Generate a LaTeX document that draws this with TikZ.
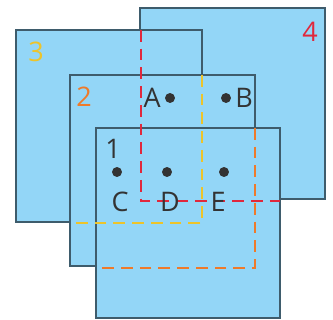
\documentclass[tikz,border=0pt]{standalone}
\usepackage{fontspec}
\setmainfont{Open Sans}
\usetikzlibrary{positioning}
\definecolor{sheet}{HTML}{93D6F7}
\definecolor{rim}{HTML}{3E5C6C}
\definecolor{red4}{HTML}{E0283C}
\definecolor{yel3}{HTML}{EDC42A}
\definecolor{org2}{HTML}{EE7A2A}
\begin{document}
\begin{tikzpicture}[x=0.03cm,y=-0.03cm,
  sheetbox/.style={fill=sheet,draw=rim,line width=1.2pt},
  hidden/.style={dashed,dash pattern=on 10pt off 6pt,line width=1.6pt},
  pt/.style={circle,fill=black!80,inner sep=0pt,minimum size=8.5pt},
  lbl/.style={font=\fontsize{23}{23}\selectfont,text=black!80}]
\useasboundingbox (0,0) rectangle (333,320);
\filldraw[sheetbox] (140,8) rectangle (325,199);
\filldraw[sheetbox] (16,30) rectangle (202,222);
\filldraw[sheetbox] (70,75) rectangle (255,266);
\filldraw[sheetbox] (96,128) rectangle (280,318);
% hidden edges
\draw[hidden,red4] (141,30)--(141,201)--(280,201);
\draw[hidden,yel3] (202,75)--(202,223)--(70,223);
\draw[hidden,org2] (255,128)--(255,268)--(96,268);
% sheet numbers
\node[lbl,text=yel3] (n3) at (36,52) {3};
\node[lbl,text=red4] (n4) at (310,32) {4};
\node[lbl,text=org2] (n2) at (84,97) {2};
\node[lbl] (n1) at (113,149) {1};
% points
\node[pt] (a) at (170,98) {};
\node[pt] (b) at (226,98) {};
\foreach \p/\x in {c/117,d/167,e/224}
{
\node[pt] (\p) at (\x,172) {};
}
\node[lbl,left=0pt of a] (la) {A};
\node[lbl,right=0pt of b] (lb) {B};
\node[lbl] (lc) at (120,202) {C};
\node[lbl] (ld) at (170,202) {D};
\node[lbl] (le) at (218,202) {E};
\end{tikzpicture}
\end{document}
